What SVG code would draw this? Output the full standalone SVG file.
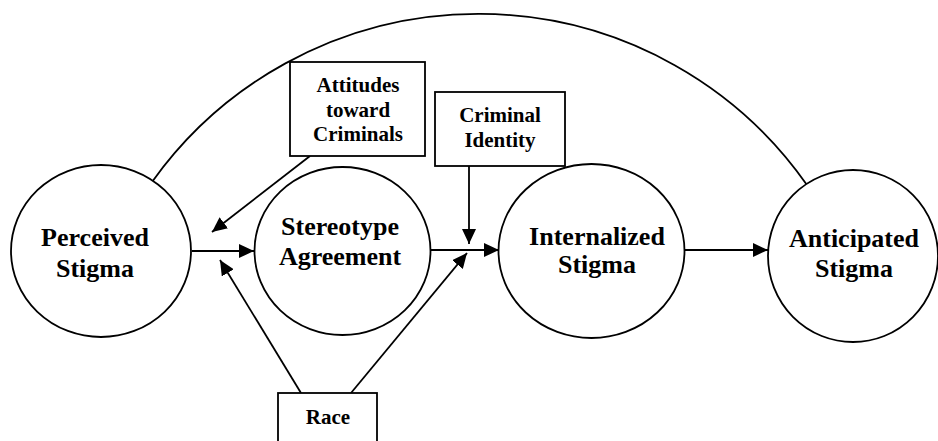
<svg xmlns="http://www.w3.org/2000/svg" width="938" height="441" viewBox="0 0 938 441">
  <style>
    .shape { fill: #ffffff; stroke: #000000; stroke-width: 1.8; }
    .line { fill: none; stroke: #000000; stroke-width: 1.8; }
    .big { font-family: "Liberation Serif", "Times New Roman", serif; font-weight: bold; font-size: 26px; text-anchor: middle; fill: #000000; }
    .small { font-family: "Liberation Serif", "Times New Roman", serif; font-weight: bold; font-size: 21px; text-anchor: middle; fill: #000000; }
  </style>
  <defs>
    <marker id="arrow" markerUnits="userSpaceOnUse" markerWidth="15" markerHeight="14" refX="15" refY="7" orient="auto">
      <path d="M0,0 L15,7 L0,14 Z" fill="#000000"/>
    </marker>
  </defs>
  <rect width="938" height="441" fill="#ffffff"/>

  <!-- connectors -->
  <g id="connectors">
    <path class="line" d="M152,182 A401,401 0 0 1 807,185"/>
    <line class="line" x1="192" y1="251" x2="254" y2="251" marker-end="url(#arrow)"/>
    <line class="line" x1="431" y1="250" x2="499" y2="250" marker-end="url(#arrow)"/>
    <line class="line" x1="685" y1="250" x2="768" y2="250" marker-end="url(#arrow)"/>
    <line class="line" x1="310" y1="156" x2="212" y2="232" marker-end="url(#arrow)"/>
    <line class="line" x1="469" y1="166" x2="469" y2="244" marker-end="url(#arrow)"/>
    <line class="line" x1="301" y1="393" x2="220" y2="260" marker-end="url(#arrow)"/>
    <line class="line" x1="351" y1="393" x2="467" y2="253" marker-end="url(#arrow)"/>
  </g>

  <g id="perceived-stigma">
    <ellipse class="shape" cx="101" cy="251" rx="90" ry="86"/>
    <text class="big" x="95" y="246">Perceived</text>
    <text class="big" x="95" y="277">Stigma</text>
  </g>

  <g id="stereotype-agreement">
    <ellipse class="shape" cx="342.5" cy="251" rx="88" ry="84"/>
    <text class="big" x="340" y="235">Stereotype</text>
    <text class="big" x="340" y="265">Agreement</text>
  </g>

  <g id="internalized-stigma">
    <ellipse class="shape" cx="591.5" cy="251" rx="93" ry="87"/>
    <text class="big" x="597" y="245">Internalized</text>
    <text class="big" x="597" y="273">Stigma</text>
  </g>

  <g id="anticipated-stigma">
    <ellipse class="shape" cx="853" cy="256" rx="85" ry="86"/>
    <text class="big" x="854" y="247">Anticipated</text>
    <text class="big" x="854" y="277">Stigma</text>
  </g>

  <g id="attitudes-toward-criminals">
    <rect class="shape" x="290" y="62" width="135" height="94"/>
    <text class="small" x="358" y="92">Attitudes</text>
    <text class="small" x="358" y="117">toward</text>
    <text class="small" x="358" y="141">Criminals</text>
  </g>

  <g id="criminal-identity">
    <rect class="shape" x="435" y="92" width="130" height="74"/>
    <text class="small" x="500" y="122">Criminal</text>
    <text class="small" x="500" y="147">Identity</text>
  </g>

  <g id="race">
    <rect class="shape" x="278" y="393" width="99" height="60"/>
    <text class="small" x="328" y="424">Race</text>
  </g>
</svg>
